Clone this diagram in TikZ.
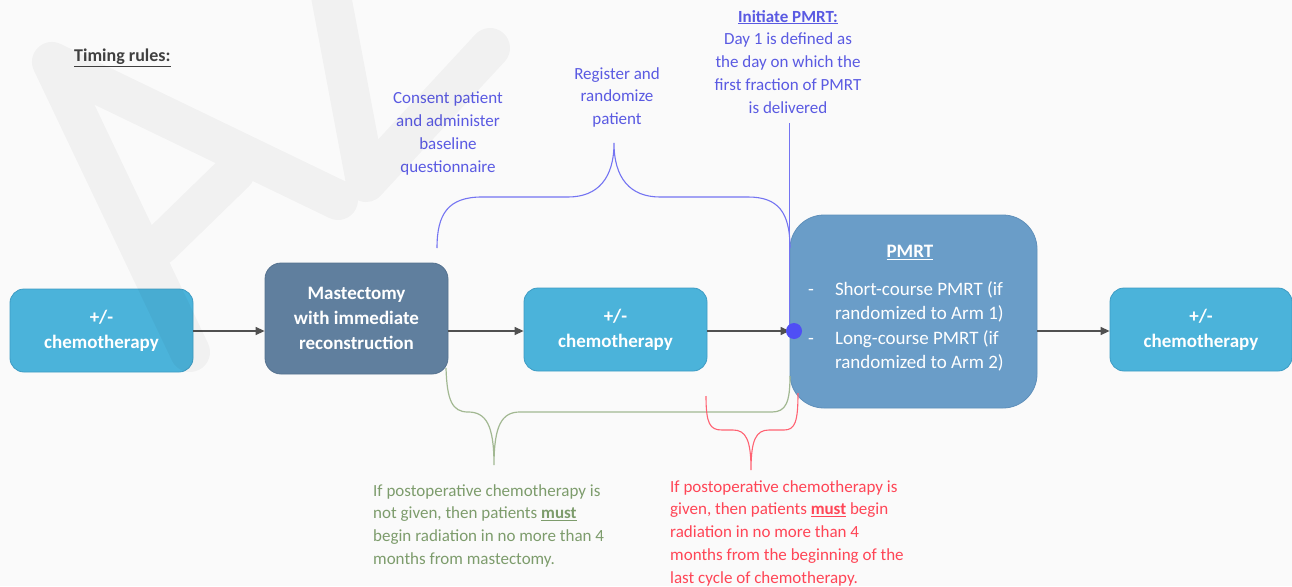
\documentclass[tikz,border=0pt]{standalone}
\usepackage{fontspec}
\setmainfont{Carlito}
\usetikzlibrary{arrows.meta}
\definecolor{bgc}{HTML}{FAFAFA}
\definecolor{chemoblue}{HTML}{4BB3DA}
\definecolor{chemoedge}{HTML}{3E9CC4}
\definecolor{mastfill}{HTML}{607F9E}
\definecolor{mastedge}{HTML}{55728F}
\definecolor{pmrtfill}{HTML}{6A9DC8}
\definecolor{pmrtedge}{HTML}{5E8FBA}
\definecolor{bluetxt}{HTML}{5A5AE2}
\definecolor{blueln}{HTML}{7474F2}
\definecolor{bluedot}{HTML}{4F4FF5}
\definecolor{greentxt}{HTML}{7D9C6C}
\definecolor{greenln}{HTML}{A2B892}
\definecolor{redtxt}{HTML}{FF4556}
\definecolor{redln}{HTML}{FF6272}
\definecolor{arrc}{HTML}{505050}
\definecolor{titlec}{HTML}{404040}
\tikzset{
  boxfont/.style={font=\fontsize{19}{25}\selectfont\bfseries},
  notefont/.style={font=\fontsize{17}{22.8}\selectfont},
  chemobox/.style={rounded corners=14pt, fill=chemoblue, draw=chemoedge, line width=0.8pt,
    minimum width=183pt, minimum height=83pt, text=white, boxfont, align=center, inner sep=0pt},
  mastbox/.style={rounded corners=16pt, fill=mastfill, draw=mastedge, line width=0.8pt,
    minimum width=183pt, minimum height=111pt, text=white, boxfont, align=center, inner sep=0pt},
  pmrtbox/.style={rounded corners=34pt, fill=pmrtfill, draw=pmrtedge, line width=0.8pt,
    minimum width=247pt, minimum height=193pt, inner sep=0pt},
  flow/.style={draw=arrc, line width=1.3pt, -{Triangle[length=9pt,width=8pt]}},
  bluenote/.style={notefont, text=bluetxt, align=center, inner sep=0pt},
  blueline/.style={draw=blueln, line width=1.1pt},
  greenline/.style={draw=greenln, line width=1.2pt},
  redline/.style={draw=redln, line width=1.1pt},
  wmstroke/.style={draw=black, draw opacity=0.035, line width=40pt, line cap=round, line join=round},
}
\begin{document}
\begin{tikzpicture}[x=1pt,y=-1pt]
\fill[bgc] (0,0) rectangle (1292,586);
\useasboundingbox (0,0) rectangle (1292,586);
% title
\node[anchor=base west, inner sep=0pt, text=titlec, font=\fontsize{18}{22}\selectfont\bfseries] (timing) at (74,62) {\underline{Timing rules:}};
% boxes
\node[chemobox] (b1) at (101.5,330.5) {+/-\\chemotherapy};
\node[mastbox] (mast) at (356.5,318.5) {Mastectomy\\with immediate\\reconstruction};
\node[chemobox] (b3) at (615.5,329.5) {+/-\\chemotherapy};
\node[pmrtbox] (pmrt) at (913.5,311.5) {};
\node[anchor=north west, inner sep=0pt, text=white, font=\fontsize{19}{24.5}\selectfont] (pmrttxt) at (808,240)
  {\begin{tabular}{@{}l@{\hspace{21pt}}l@{}}
   \multicolumn{2}{c}{\hspace{8pt}\textbf{\underline{PMRT}}}\\[13.5pt]
   -& Short-course PMRT (if\\
    & randomized to Arm 1)\\
   -& Long-course PMRT (if\\
    & randomized to Arm 2)
   \end{tabular}};
\node[chemobox, minimum width=182pt] (b5) at (1201,329.5) {+/-\\chemotherapy};
% flow arrows
\draw[flow] (b1.east |- 0,331) -- (mast.west |- 0,331);
\draw[flow] (mast.east |- 0,331) -- (b3.west |- 0,331);
\draw[flow] (b3.east |- 0,331) -- (pmrt.west |- 0,331);
\draw[flow] (pmrt.east |- 0,331) -- (b5.west |- 0,331);
% blue annotations
\node[bluenote, anchor=north] (consent) at (448,92) {Consent patient\\and administer\\baseline\\questionnaire};
\node[bluenote, anchor=north] (register) at (617,67) {Register and\\randomize\\patient};
\node[bluenote, anchor=north] (init) at (788,10) {\textbf{\underline{Initiate PMRT:}}\\Day 1 is defined as\\the day on which the\\first fraction of PMRT\\is delivered};
\coordinate (dot) at (794,331);
\draw[blueline] (pmrt.west |- 0,123) -- (pmrt.west |- dot);
\draw[blueline] (437,248) .. controls (437,214) and (448,197) .. (482,197) -- (568,197)
  .. controls (598,197) and (614,178) .. (614,143)
  .. controls (614,178) and (630,197) .. (660,197) -- (748,197)
  .. controls (778,197) and (790,212) .. (790,248);
\fill[bluedot] (dot) circle (8pt);
% green brace and note
\draw[greenline] (446,368) .. controls (447,400) and (452,412) .. (468,412)
  .. controls (486,412) and (494,425) .. (494,465)
  .. controls (494,425) and (502,412) .. (520,412) -- (772,412)
  .. controls (786,412) and (790,402) .. (790,376);
\node[notefont, text=greentxt, align=left, anchor=north west, inner sep=0pt] (greennote) at (373,484)
  {If postoperative chemotherapy is\\not given, then patients \textbf{\underline{must}}\\begin radiation in no more than 4\\months from mastectomy.};
% red brace and note
\draw[redline] (706,396) .. controls (706,424) and (710,430) .. (722,430) -- (733,430)
  .. controls (746,430) and (751,440) .. (751,470)
  .. controls (751,440) and (756,430) .. (769,430) -- (784,430)
  .. controls (795,430) and (798,422) .. (798,393);
\node[notefont, text=redtxt, align=left, anchor=north west, inner sep=0pt] (rednote) at (670,480)
  {If postoperative chemotherapy is\\given, then patients \textbf{\underline{must}} begin\\radiation in no more than 4\\months from the beginning of the\\last cycle of chemotherapy.};
% faint watermark drawn over everything
\begin{scope}
\clip (0,0) rectangle (1292,586);
\draw[wmstroke] (190,352) -- (52,62) -- (338,200) (160,245) -- (235,172) (328,-20) -- (366,182) -- (490,48);
\end{scope}
\end{tikzpicture}
\end{document}
